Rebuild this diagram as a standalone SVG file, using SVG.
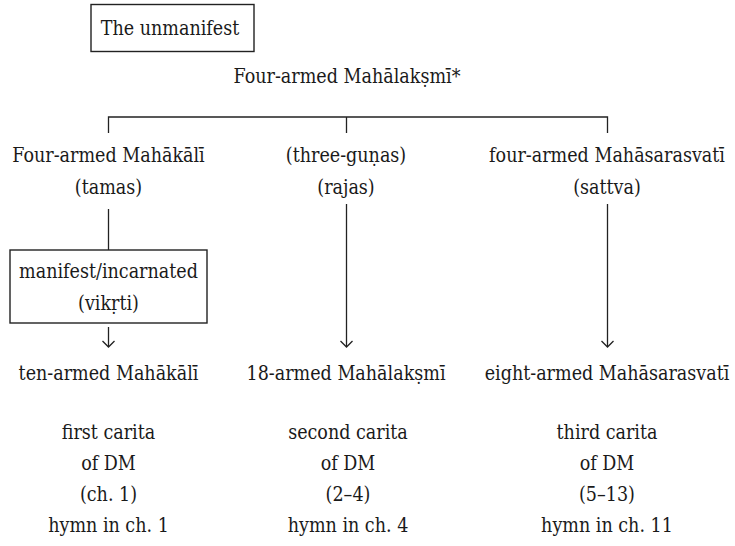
<svg xmlns="http://www.w3.org/2000/svg" width="735" height="546" viewBox="0 0 735 546">
<style>
  .t { font-family: 'DejaVu Serif Condensed', 'DejaVu Serif', serif; font-stretch: condensed; font-size: 19.5px; fill: #1a1a1a; text-anchor: middle; }
  .box { fill: none; stroke: #222; stroke-width: 1.4; }
  .ln { fill: none; stroke: #222; stroke-width: 1.3; }
</style>
<defs>
  <marker id="arr" viewBox="0 0 8 14" refX="7" refY="7" markerWidth="8" markerHeight="14" markerUnits="userSpaceOnUse" orient="auto">
    <path d="M1 1 L7 7 L1 13" fill="none" stroke="#222" stroke-width="1.3"/>
  </marker>
</defs>
<g class="t">
<g id="unmanifest">
  <rect class="box" x="91" y="4.5" width="163" height="47"/>
  <text x="170" y="35">The unmanifest</text>
</g>
<g id="mahalakshmi-top">
  <text x="347" y="83">Four-armed Mahālakṣmī*</text>
</g>
<g id="mahakali-four">
  <text x="108.5" y="162">Four-armed Mahākālī</text>
  <text x="108.5" y="194">(tamas)</text>
</g>
<g id="three-gunas">
  <text x="346" y="162">(three-guṇas)</text>
  <text x="346" y="194">(rajas)</text>
</g>
<g id="mahasarasvati-four">
  <text x="607" y="162">four-armed Mahāsarasvatī</text>
  <text x="607" y="194">(sattva)</text>
</g>
<g id="manifest">
  <rect class="box" x="10" y="250" width="197" height="73"/>
  <text x="108.5" y="278">manifest/incarnated</text>
  <text x="108.5" y="310">(vikṛti)</text>
</g>
<g id="mahakali-ten">
  <text x="108.5" y="380">ten-armed Mahākālī</text>
</g>
<g id="mahalakshmi-18">
  <text x="346" y="380">18-armed Mahālakṣmī</text>
</g>
<g id="mahasarasvati-eight">
  <text x="607" y="380">eight-armed Mahāsarasvatī</text>
</g>
<g id="carita-1">
  <text x="108.5" y="439">first carita</text>
  <text x="108.5" y="470">of DM</text>
  <text x="108.5" y="501">(ch. 1)</text>
  <text x="108.5" y="532">hymn in ch. 1</text>
</g>
<g id="carita-2">
  <text x="348" y="439">second carita</text>
  <text x="348" y="470">of DM</text>
  <text x="348" y="501">(2–4)</text>
  <text x="348" y="532">hymn in ch. 4</text>
</g>
<g id="carita-3">
  <text x="607" y="439">third carita</text>
  <text x="607" y="470">of DM</text>
  <text x="607" y="501">(5–13)</text>
  <text x="607" y="532">hymn in ch. 11</text>
</g>
</g>
<g id="connectors">
  <path class="ln" d="M108.5 133 V117 H607.5 V133 M346.5 117 V133"/>
  <line class="ln" x1="108.5" y1="209" x2="108.5" y2="250"/>
  <line class="ln" x1="108.5" y1="327" x2="108.5" y2="347" marker-end="url(#arr)"/>
  <line class="ln" x1="346.5" y1="204" x2="346.5" y2="347" marker-end="url(#arr)"/>
  <line class="ln" x1="607.5" y1="204" x2="607.5" y2="347" marker-end="url(#arr)"/>
</g>
</svg>
